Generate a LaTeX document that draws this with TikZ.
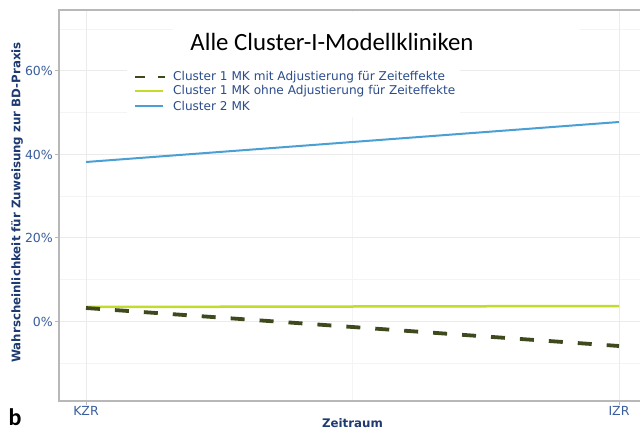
\documentclass[tikz,border=0pt]{standalone}
\usepackage{fontspec}
\setmainfont{DejaVu Sans}
\newfontfamily\titlefont{Carlito}
\definecolor{gridmaj}{HTML}{EBEBEB}
\definecolor{gridmin}{HTML}{F4F4F4}
\definecolor{frame}{HTML}{B8B8B8}
\definecolor{ticktxt}{HTML}{3A5E9C}
\definecolor{axtitle}{HTML}{1E3A70}
\definecolor{legtxt}{HTML}{2B4C8C}
\definecolor{c2blue}{HTML}{4A9FD4}
\definecolor{c1yel}{HTML}{C4DB2A}
\definecolor{c1olive}{HTML}{3E4A1E}
\tikzset{
  majgrid/.style={draw=gridmaj, line width=0.9pt},
  mingrid/.style={draw=gridmin, line width=0.7pt},
  framel/.style={draw=frame, line width=1.2pt},
  ticklab/.style={text=ticktxt, font=\fontsize{12.5}{14}\selectfont, inner sep=0pt},
  axlab/.style={text=axtitle, font=\fontsize{11.8}{13}\selectfont\bfseries, inner sep=0pt},
  legtext/.style={text=legtxt, font=\fontsize{12.1}{14}\selectfont, inner sep=0pt, anchor=west},
  blueline/.style={draw=c2blue, line width=2pt},
  yelline/.style={draw=c1yel, line width=2.5pt},
  oliveline/.style={draw=c1olive, line width=3.8pt, dash pattern=on 14pt off 15pt},
  olivekey/.style={draw=c1olive, line width=2.8pt, dash pattern=on 10pt off 13pt},
}
\begin{document}
\begin{tikzpicture}[x=1pt,y=-1pt]
\useasboundingbox (0,0) rectangle (640,433);
\fill[white] (0,0) rectangle (640,433);
% grid
\foreach \yy in {29,112,196,279,363} \draw[mingrid] (59,\yy) -- (640,\yy);
\draw[mingrid] (352.5,10) -- (352.5,401);
\foreach \yy in {70,154,237,321} \draw[majgrid] (59,\yy) -- (640,\yy);
\foreach \xx in {86,619} \draw[majgrid] (\xx,10) -- (\xx,401);
% title and legend backgrounds
\fill[white] (173,12) rectangle (580,55);
\fill[white] (127,55) rectangle (460,117);
% frame
\draw[framel] (640,10) -- (59,10) -- (59,401) -- (640,401);
% ticks
\foreach \yy in {70,154,237,321} \draw[frame, line width=0.8pt] (55,\yy) -- (59,\yy);
\foreach \xx in {86,619} \draw[frame, line width=0.8pt] (\xx,401) -- (\xx,405);
% tick labels
\node[ticklab, anchor=east] (t60) at (53,71) {60\%};
\node[ticklab, anchor=east] (t40) at (53,155) {40\%};
\node[ticklab, anchor=east] (t20) at (53,238) {20\%};
\node[ticklab, anchor=east] (t0) at (53,322) {0\%};
\node[ticklab] (kzr) at (86,411) {KZR};
\node[ticklab] (izr) at (619,411) {IZR};
% axis titles
\node[axlab] (xt) at (352.5,423) {Zeitraum};
\node[axlab, rotate=90] (yt) at (17,202.5) {Wahrscheinlichkeit für Zuweisung zur BD-Praxis};
% data
\coordinate (bA) at (86,162); \coordinate (bB) at (619,122);
\coordinate (yA) at (86,307); \coordinate (yB) at (619,306);
\coordinate (oA) at (86,308); \coordinate (oB) at (619,346);
\draw[yelline] (yA) -- (yB);
\draw[oliveline] (oA) -- (oB);
\draw[blueline] (bA) -- (bB);
% title
\node[font=\titlefont\fontsize{24.8}{28}\selectfont, inner sep=0pt] (title) at (332,42) {Alle Cluster-I-Modellkliniken};
% legend
\coordinate (k1a) at (135,77); \coordinate (k1b) at (165,77);
\coordinate (k2a) at (135,91); \coordinate (k2b) at (163,91);
\coordinate (k3a) at (135,106); \coordinate (k3b) at (163,106);
\draw[olivekey] (k1a) -- (k1b);
\draw[yelline] (k2a) -- (k2b);
\draw[blueline] (k3a) -- (k3b);
\node[legtext] (l1) at (173,77) {Cluster 1 MK mit Adjustierung für Zeiteffekte};
\node[legtext] (l2) at (173,91) {Cluster 1 MK ohne Adjustierung für Zeiteffekte};
\node[legtext] (l3) at (173,106) {Cluster 2 MK};
% panel letter
\node[font=\titlefont\fontsize{24}{28}\selectfont\bfseries, inner sep=0pt, anchor=base] (b) at (15,425) {b};
\end{tikzpicture}
\end{document}
